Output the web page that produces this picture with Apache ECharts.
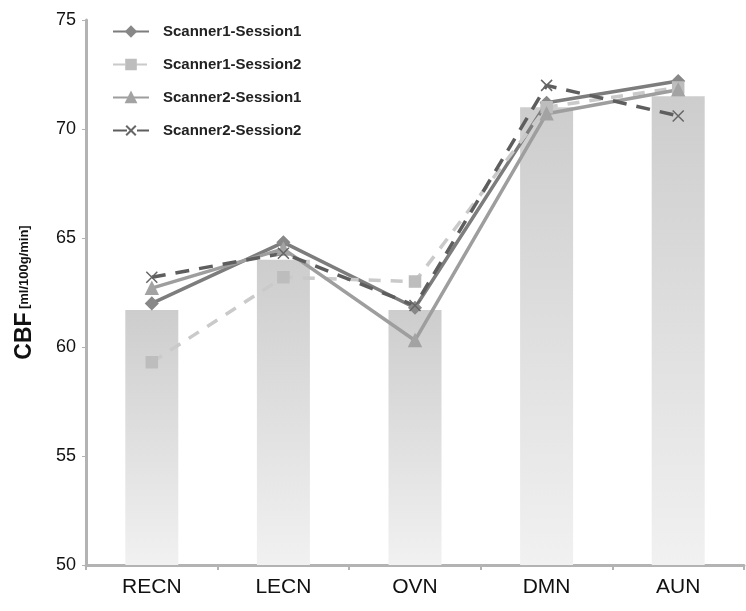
<!DOCTYPE html>
<html>
<head>
<meta charset="utf-8">
<script src="https://cdn.jsdelivr.net/npm/echarts@6/dist/echarts.min.js"></script>
<style>
  html, body { margin: 0; padding: 0; background: #fff; }
  #chart { width: 746px; height: 611px; }
</style>
</head>
<body>
<div id="chart"></div>
<script>
const categories = ["RECN", "LECN", "OVN", "DMN", "AUN"];
const meanCBF = [61.7, 64.0, 61.7, 71.0, 71.5];
const scanner1Session1 = [62.0, 64.8, 61.8, 71.2, 72.2];
const scanner1Session2 = [59.3, 63.2, 63.0, 71.0, 71.9];
const scanner2Session1 = [62.7, 64.5, 60.3, 70.7, 71.8];
const scanner2Session2 = [63.2, 64.3, 61.9, 72.0, 70.6];

const chart = echarts.init(document.getElementById("chart"));

const lineSeries = (name, data, color, markColor, type, symbol, size) => ({
  name: name,
  type: "line",
  data: data,
  symbol: symbol,
  symbolSize: size,
  z: 3,
  lineStyle: { color: color, width: 3.5, type: type },
  itemStyle: { color: markColor, borderColor: markColor, borderWidth: 1.5 },
});

chart.setOption({
  animation: false,
  textStyle: { fontFamily: "Liberation Sans, Arial, sans-serif" },
  grid: { left: 86, right: 2, top: 20, bottom: 46 },
  legend: {
    orient: "vertical",
    left: 107,
    top: 19,
    itemGap: 18,
    itemWidth: 36,
    itemHeight: 12,
    data: ["Scanner1-Session1", "Scanner1-Session2", "Scanner2-Session1", "Scanner2-Session2"],
    textStyle: { fontSize: 15, fontWeight: "bold", color: "#222", padding: [0, 0, 0, 9] },
  },
  xAxis: {
    type: "category",
    data: categories,
    axisLine: { lineStyle: { color: "#b3b3b3", width: 3 } },
    axisTick: { show: true, length: 5, lineStyle: { color: "#b3b3b3", width: 2 } },
    axisLabel: { fontSize: 21, color: "#111", margin: 12 },
  },
  yAxis: {
    type: "value",
    min: 50,
    max: 75,
    interval: 5,
    name: "{a|CBF} {b|[ml/100g/min]}",
    nameLocation: "middle",
    nameGap: 50,
    nameRotate: 90,
    nameTextStyle: {
      rich: {
        a: { fontSize: 23, fontWeight: "bold", color: "#111" },
        b: { fontSize: 13, fontWeight: "bold", color: "#111" },
      },
    },
    splitLine: { show: false },
    axisLine: { show: true, lineStyle: { color: "#b3b3b3", width: 3 } },
    axisTick: { show: true, length: 4, lineStyle: { color: "#b3b3b3", width: 1 } },
    axisLabel: { fontSize: 18, color: "#111", margin: 10 },
  },
  series: [
    {
      name: "mean",
      type: "bar",
      data: meanCBF,
      barWidth: 53,
      z: 1,
      itemStyle: {
        color: new echarts.graphic.LinearGradient(0, 0, 0, 1, [
          { offset: 0, color: "#cdcdcd" },
          { offset: 1, color: "#f1f1f1" },
        ]),
      },
    },
    lineSeries("Scanner1-Session1", scanner1Session1, "#7d7d7d", "#888888", "solid", "diamond", 12),
    lineSeries("Scanner1-Session2", scanner1Session2, "#cacaca", "#bdbdbd", [12, 10], "rect", 11),
    lineSeries("Scanner2-Session1", scanner2Session1, "#9e9e9e", "#a3a3a3", "solid", "triangle", 12),
    lineSeries("Scanner2-Session2", scanner2Session2, "#5e5e5e", "#666666", [14, 10], "path://M0,0 L10,10 M10,0 L0,10", 11),
  ],
});
</script>
</body>
</html>
